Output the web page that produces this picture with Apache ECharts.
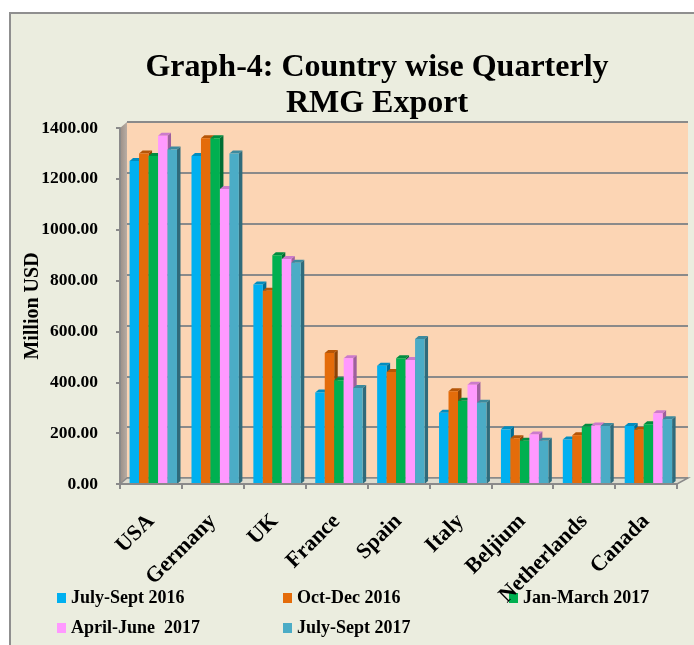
<!DOCTYPE html>
<html><head><meta charset="utf-8">
<script src="https://cdn.jsdelivr.net/npm/echarts@6/dist/echarts.min.js"></script>
<style>
html,body{margin:0;padding:0;background:#fff;overflow:hidden}
#bg{position:absolute;left:9px;top:12px;width:800px;height:800px;background:#EBEDDF;border:2px solid #8F8F8F}
#c{position:absolute;left:0;top:0;width:694px;height:645px}
</style>
</head><body><div id="bg"></div><div id="c"></div>
<script>
// ---- data ----
const countries = ['USA','Germany','UK','France','Spain','Italy','Beljium','Netherlands','Canada'];
const seriesNames = ['July-Sept 2016','Oct-Dec 2016','Jan-March 2017','April-June  2017','July-Sept 2017'];
const julSep2016 = [1270,1290,785,360,465,280,215,175,228];
const octDec2016 = [1300,1360,760,515,440,365,180,192,213];
const janMar2017 = [1290,1360,900,408,495,327,170,225,235];
const aprJun2017 = [1370,1160,885,495,488,390,195,230,278];
const julSep2017 = [1315,1300,870,378,570,320,170,228,255];
const yTicks = {min:0, max:1400, interval:200};

// ---- style ----
const SERIF = '"Liberation Serif","Times New Roman",serif';
const colors = ['#00B0F0','#E46C0A','#00B050','#FF99FF','#4BACC6'];
const seriesData = [julSep2016, octDec2016, janMar2017, aprJun2017, julSep2017];
const GROUP_START = 0.155, GROUP_FRAC = 0.766, DX = 3.5, DY = 3;
const WX = 7, WY = 6;

function shade(hex, f){
  const n = parseInt(hex.slice(1),16);
  const r = Math.round(((n>>16)&255)*f), g = Math.round(((n>>8)&255)*f), b = Math.round((n&255)*f);
  return 'rgb('+r+','+g+','+b+')';
}
function barRenderer(si, color){
  const side = shade(color,0.62), cap = shade(color,0.8);
  return function(params, api){
    const idx = api.value(0), val = api.value(1);
    const base = api.coord([idx, 0]);
    const band = api.size([1,0])[0];
    const y0 = api.coord([idx, val])[1];
    const yb = base[1];
    const bw = band*GROUP_FRAC/5;
    const x0 = base[0] - band/2 + band*GROUP_START + si*bw;
    const x1 = x0 + bw;
    return {type:'group', children:[
      {type:'polygon', shape:{points:[[x1,y0],[x1+DX,y0-DY],[x1+DX,yb-DY],[x1,yb]]}, style:{fill:side}},
      {type:'polygon', shape:{points:[[x0,y0],[x0+DX,y0-DY],[x1+DX,y0-DY],[x1,y0]]}, style:{fill:cap}},
      {type:'rect', shape:{x:x0,y:y0,width:bw,height:yb-y0}, style:{fill:color}}
    ]};
  };
}

const chart = echarts.init(document.getElementById('c'));
const series = [{
  type:'custom', name:'walls', xAxisIndex:1, yAxisIndex:1, data:[[0,0]], z:1, silent:true,
  renderItem(params, api){
    const cs = params.coordSys;
    const L = cs.x, T = cs.y, R = cs.x+cs.width, B = cs.y+cs.height;
    return {type:'group', children:[
      {type:'polygon', shape:{points:[[L,T],[L+WX,T-WY],[L+WX,B-WY],[L,B]]},
        style:{fill:new echarts.graphic.LinearGradient(0,0,1,0,[{offset:0,color:'#9A8E86'},{offset:1,color:'#B8ADA4'}])}},
      {type:'polygon', shape:{points:[[L,B],[L+WX,B-WY],[R+11,B-WY],[R,B]]},
        style:{fill:'#DEDCCF', stroke:'#8A8A8A', lineWidth:1.5}}
    ]};
  }
}];
seriesData.forEach((arr, si) => {
  series.push({
    type:'custom', name:seriesNames[si], xAxisIndex:1, yAxisIndex:1, z:3,
    itemStyle:{color:colors[si]},
    data: arr.map((v,i)=>[i,v]),
    renderItem: barRenderer(si, colors[si])
  });
});

chart.setOption({
  animation:false,
  graphic:[{
    type:'text', x:377, y:50, z:10,
    style:{text:'Graph-4: Country wise Quarterly\nRMG Export', textAlign:'center', textVerticalAlign:'top',
      font:'bold 32px "Liberation Serif"', lineHeight:36, fill:'#000'}
  }],
  grid:[
    {left:127, right:6, top:122, bottom:167, show:true, backgroundColor:'#FCD5B4', borderWidth:0},
    {left:120, right:17, top:128, bottom:161}
  ],
  xAxis:[
    {gridIndex:0, type:'category', data:countries, show:false},
    {gridIndex:1, type:'category', data:countries, z:10,
      axisLine:{lineStyle:{color:'#8A8A8A', width:2}},
      axisTick:{show:true, length:5, lineStyle:{color:'#8A8A8A', width:2}},
      axisLabel:{rotate:45, interval:0, margin:34, color:'#000', fontFamily:SERIF, fontWeight:'bold', fontSize:22}}
  ],
  yAxis:[
    {gridIndex:0, type:'value', min:yTicks.min, max:yTicks.max, interval:yTicks.interval,
      axisLabel:{show:false}, axisLine:{show:false}, axisTick:{show:false},
      splitLine:{show:true, lineStyle:{color:'#8A8A8A', width:2}}},
    {gridIndex:1, type:'value', min:yTicks.min, max:yTicks.max, interval:yTicks.interval, z:10,
      splitLine:{show:false},
      axisLine:{show:true, lineStyle:{color:'#8A8A8A', width:2}},
      axisTick:{show:true, length:4, lineStyle:{color:'#8A8A8A', width:2}},
      axisLabel:{margin:22, color:'#000', fontFamily:SERIF, fontWeight:'bold', fontSize:17.5,
        formatter:v=>v.toFixed(2)},
      name:'Million USD', nameLocation:'middle', nameGap:77, nameRotate:90, nameMoveOverlap:false,
      nameTextStyle:{color:'#000', fontFamily:SERIF, fontWeight:'bold', fontSize:20}}
  ],
  legend:{left:57, top:586, width:690, padding:0, orient:'horizontal', icon:'rect', itemWidth:9, itemHeight:10, itemGap:6,
    selectedMode:false, data:seriesNames,
    textStyle:{color:'#000', fontFamily:SERIF, fontWeight:'bold', fontSize:18, width:206, lineHeight:24}},
  series: series
});
</script>
</body></html>
